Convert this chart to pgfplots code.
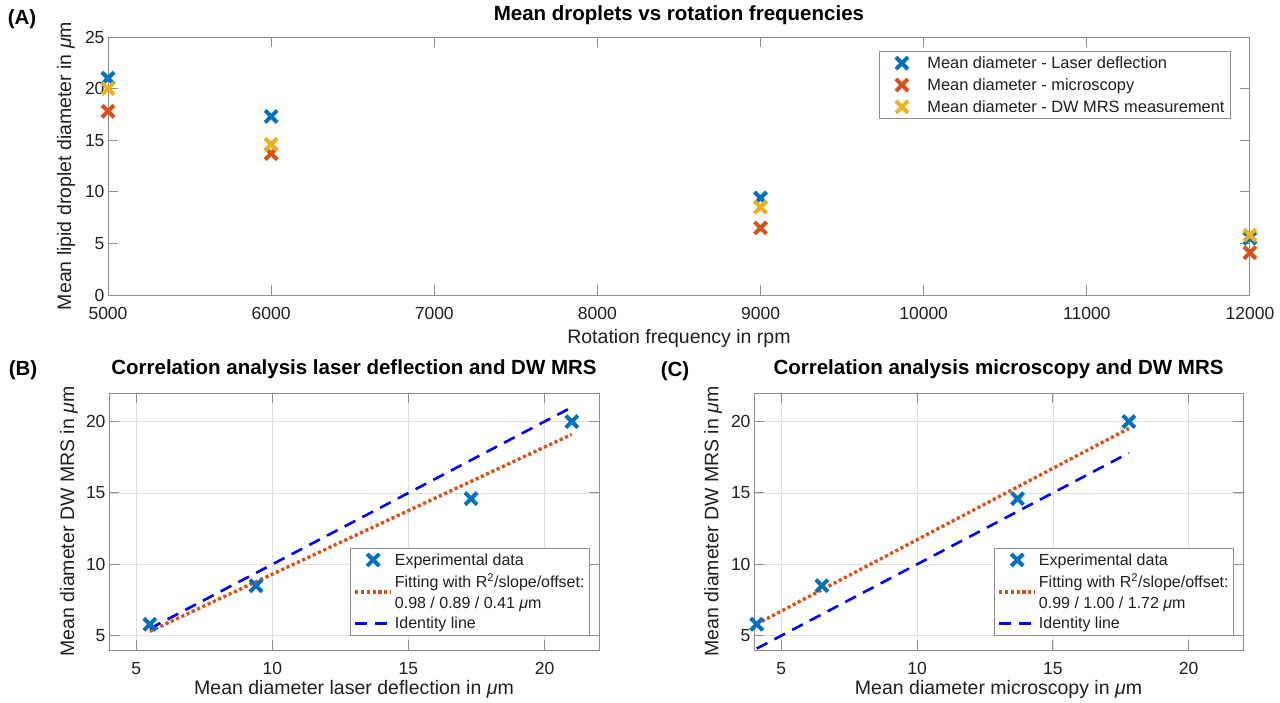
\documentclass[border=0pt]{standalone}
\usepackage{fontspec}
\setmainfont{Liberation Sans}
\usepackage{pgfplots}
\pgfplotsset{compat=1.18}
\definecolor{mblue}{rgb}{0,0.447,0.741}
\definecolor{morange}{rgb}{0.85,0.325,0.098}
\definecolor{myellow}{rgb}{0.929,0.694,0.125}
\definecolor{axgray}{gray}{0.55}
\definecolor{txt}{gray}{0.12}
\newcommand{\fs}[1]{\fontsize{#1}{21}\selectfont}
\pgfplotsset{
  common/.style={
    scale only axis,
    axis line style={draw=axgray, line width=0.9pt},
    every tick/.style={draw=axgray, line width=0.9pt},
    major tick length=10pt,
    tick align=inside,
    xtick pos=both, ytick pos=both,
    tick label style={font=\fs{17.5}, text=txt},
    xticklabel style={yshift=-9pt},
    label style={font=\fs{19.5}, text=txt},
    title style={font=\bfseries\fs{20.5}, text=black, anchor=base, at={(axis description cs:0.5,1)}},
    /pgf/number format/assume math mode=true,
    /pgf/number format/1000 sep={},
    scaled x ticks=false, scaled y ticks=false,
    legend style={font=\fs{16}, draw=axgray, line width=0.9pt, fill=white, text=txt, row sep=3pt, inner ysep=3pt},
    legend cell align=left,
  },
  xmark/.style={only marks, mark=x, mark size=8.5pt, mark options={line width=4pt, #1}, color=#1},
}
\begin{document}
\begin{tikzpicture}
\path[use as bounding box] (0pt,0pt) rectangle (1280pt,703pt);
% ---------- (A)
\begin{axis}[common,
  at={(108pt,408pt)}, anchor=south west,
  width=1142pt, height=258pt,
  xmin=5000, xmax=12000, ymin=0, ymax=25,
  xtick={5000,6000,...,12000}, ytick={0,5,...,25},
  title={Mean droplets vs rotation frequencies},
  title style={yshift=10pt},
  xlabel={Rotation frequency in rpm},
  ylabel={Mean lipid droplet diameter in \textit{μ}m},
  xlabel style={at={(axis description cs:0.5,-0.167)}, anchor=center},
  ylabel style={at={(axis description cs:-0.0368,0.5)}, anchor=center},
  legend style={at={(0.9834,0.9457)}, anchor=north east, row sep=4.5pt, inner xsep=4pt, font=\fs{16.4}},
  legend image code/.code={\path (-5pt,0pt) (36pt,0pt);\draw[mark repeat=2,mark phase=2,#1] plot coordinates {(0pt,0pt) (13pt,0pt) (26pt,0pt)};},
]
\addplot[xmark=mblue] coordinates {(5000,21.0) (6000,17.3) (9000,9.4) (12000,5.5)};
\addlegendentry{Mean diameter - Laser deflection}
\addplot[xmark=morange] coordinates {(5000,17.8) (6000,13.7) (9000,6.5) (12000,4.1)};
\addlegendentry{Mean diameter - microscopy}
\addplot[xmark=myellow] coordinates {(5000,20.0) (6000,14.6) (9000,8.5) (12000,5.8)};
\addlegendentry{Mean diameter - DW MRS measurement\hspace{20pt}}
\end{axis}
% ---------- (B)
\begin{axis}[common,
  at={(109pt,53pt)}, anchor=south west,
  width=490pt, height=257pt,
  xmin=4, xmax=22, ymin=4, ymax=22,
  xtick={5,10,15,20}, ytick={5,10,15,20},
  grid=major, grid style={draw=black!12, line width=0.6pt},
  title={Correlation analysis laser deflection and DW MRS},
  title style={yshift=12pt},
  xlabel={Mean diameter laser deflection in \textit{μ}m},
  ylabel={Mean diameter DW MRS in \textit{μ}m},
  xlabel style={at={(axis description cs:0.5,-0.152)}, anchor=center},
  ylabel style={at={(axis description cs:-0.0816,0.5)}, anchor=center},
  legend style={at={(0.9816,0.397)}, anchor=north east},
  legend image code/.code={\path (0pt,0pt) (36pt,0pt);\draw[mark repeat=2,mark phase=2,#1] plot coordinates {(0pt,0pt) (18pt,0pt) (36pt,0pt)};},
]
\addplot[xmark=mblue] coordinates {(5.5,5.8) (9.4,8.5) (17.3,14.6) (21.0,20.0)};
\addlegendentry{Experimental data}
\addplot[morange, line width=3.4pt, dash pattern=on 3.2pt off 2.6pt] coordinates {(5.5,5.305) (21.0,19.10)};
\addlegendentry[align=left]{Fitting with R\textsuperscript{2}/slope/offset:\\0.98 / 0.89 / 0.41 \textit{μ}m}
\addplot[blue, line width=2.6pt, dash pattern=on 12pt off 8pt] coordinates {(5.5,5.5) (21.0,21.0)};
\addlegendentry{Identity line}
\end{axis}
% ---------- (C)
\begin{axis}[common,
  at={(754pt,53pt)}, anchor=south west,
  width=489pt, height=257pt,
  xmin=4, xmax=22, ymin=4, ymax=22,
  xtick={5,10,15,20}, ytick={5,10,15,20},
  grid=major, grid style={draw=black!12, line width=0.6pt},
  title={Correlation analysis microscopy and DW MRS},
  title style={yshift=12pt},
  xlabel={Mean diameter microscopy in \textit{μ}m},
  ylabel={Mean diameter DW MRS in \textit{μ}m},
  xlabel style={at={(axis description cs:0.5,-0.152)}, anchor=center},
  ylabel style={at={(axis description cs:-0.0837,0.5)}, anchor=center},
  legend style={at={(0.9816,0.397)}, anchor=north east},
  legend image code/.code={\path (0pt,0pt) (36pt,0pt);\draw[mark repeat=2,mark phase=2,#1] plot coordinates {(0pt,0pt) (18pt,0pt) (36pt,0pt)};},
]
\addplot[xmark=mblue] coordinates {(4.1,5.8) (6.5,8.5) (13.7,14.6) (17.8,20.0)};
\addlegendentry{Experimental data}
\addplot[morange, line width=3.4pt, dash pattern=on 3.2pt off 2.6pt] coordinates {(4.1,5.82) (17.8,19.52)};
\addlegendentry[align=left]{Fitting with R\textsuperscript{2}/slope/offset:\\0.99 / 1.00 / 1.72 \textit{μ}m}
\addplot[blue, line width=2.6pt, dash pattern=on 12pt off 8pt] coordinates {(4.1,4.1) (17.8,17.8)};
\addlegendentry{Identity line}
\end{axis}
\node[font=\bfseries\fs{20.5}] at (22pt,684pt) {(A)};
\node[font=\bfseries\fs{20.5}] at (23pt,333pt) {(B)};
\node[font=\bfseries\fs{20.5}] at (675pt,332pt) {(C)};
\end{tikzpicture}
\end{document}
